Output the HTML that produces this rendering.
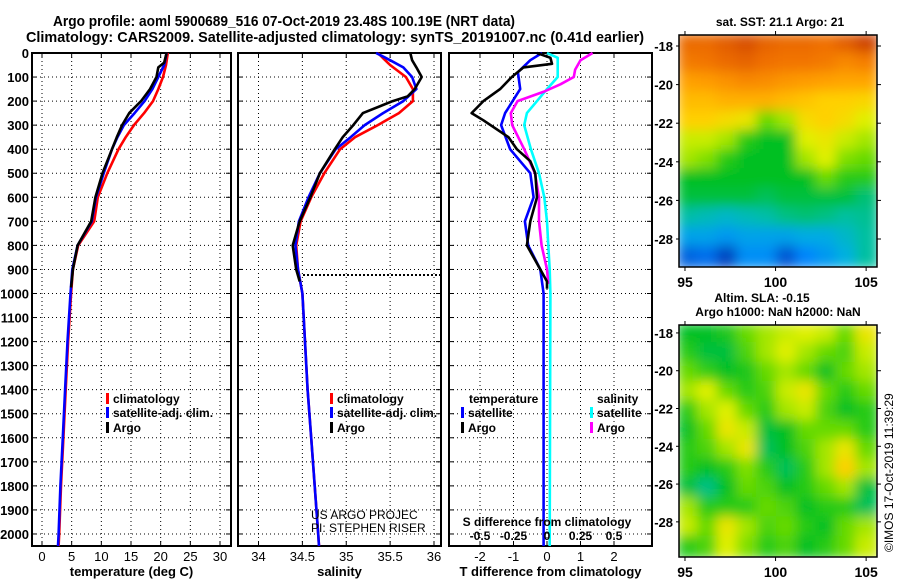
<!DOCTYPE html>
<html><head><meta charset="utf-8"><style>
html,body{margin:0;padding:0;background:#fff;}
svg{display:block;font-family:"Liberation Sans",sans-serif;}
</style></head><body>
<svg id="c" width="900" height="580" viewBox="0 0 900 580" xmlns="http://www.w3.org/2000/svg">
<defs>
<filter id="blur" x="0" y="0" width="1" height="1"><feGaussianBlur stdDeviation="6"/></filter>
<clipPath id="clipA"><rect x="679" y="35" width="198" height="232"/></clipPath>
<clipPath id="clipB"><rect x="679" y="325" width="198" height="232"/></clipPath>
</defs>
<text x="53" y="26" textLength="462" lengthAdjust="spacingAndGlyphs" font-size="15" font-weight="bold">Argo profile: aoml 5900689_516 07-Oct-2019 23.48S 100.19E (NRT data)</text>
<text x="26" y="42" textLength="618" lengthAdjust="spacingAndGlyphs" font-size="15" font-weight="bold">Climatology: CARS2009. Satellite-adjusted climatology: synTS_20191007.nc (0.41d earlier)</text>
<g id="g"></g>
</svg>
<script>
// ---- data ----
const depthTicks=[0,100,200,300,400,500,600,700,800,900,1000,1100,1200,1300,1400,1500,1600,1700,1800,1900,2000];
const tempTicks=[0,5,10,15,20,25,30];
const salTicks=[34,34.5,35,35.5,36];
const tdTicks=[-2,-1,0,1,2];
const sdTicks=[-0.5,-0.25,0,0.25,0.5];
const sdTickLabels=["-0.5","-0.25","0","0.25","0.5"];
const tClimD=[0,50,100,150,200,250,300,350,400,500,600,700,800,900,1000,1200,1400,1600,1800,2000,2050];
const tClimV=[21.2,20.9,20.4,19.6,18.7,17.2,15.5,14.1,12.9,11,9.4,8.8,6.1,5.2,4.9,4.4,4.0,3.6,3.2,2.9,2.8];
const tSatD=[0,50,100,150,200,250,300,350,400,500,600,700,800,900,1000,1200,1400,1600,1800,2000,2050];
const tSatV=[21.0,20.6,19.6,18.6,17.3,15.6,13.8,12.7,11.8,10.4,9.1,8.4,6.0,5.1,4.8,4.3,3.9,3.5,3.1,2.8,2.7];
const tArgoD=[0,40,60,100,150,200,250,300,350,400,500,600,700,800,900,975];
const tArgoV=[21.0,20.6,19.6,19.3,18.2,16.7,14.7,13.5,12.6,11.8,10.2,9.0,8.3,6.0,5.2,4.9];
const sClimD=[0,50,100,150,200,250,300,350,400,500,600,700,800,900,1000,1200,1400,1600,1800,2000,2050];
const sClimV=[35.36,35.5,35.68,35.76,35.76,35.6,35.36,35.1,34.93,34.75,34.6,34.48,34.43,34.45,34.5,34.53,34.56,34.6,34.64,34.68,34.69];
const sSatD=[0,30,60,100,150,200,250,300,350,400,500,600,700,800,900,1000,1200,1400,1600,1800,2000,2050];
const sSatV=[35.34,35.5,35.65,35.75,35.8,35.65,35.42,35.21,35.05,34.88,34.7,34.57,34.46,34.42,34.45,34.5,34.53,34.56,34.6,34.64,34.68,34.69];
const sArgoD=[0,30,60,100,150,180,200,250,300,350,400,500,600,700,800,900,950];
const sArgoV=[35.73,35.75,35.8,35.86,35.78,35.7,35.53,35.19,35.08,34.96,34.87,34.7,34.59,34.47,34.39,34.43,34.47];
const dtSatD=[0,30,80,150,250,300,400,500,600,700,800,900,1000,1500,2050];
const dtSatV=[-0.15,-0.5,-0.87,-0.8,-1.25,-1.37,-1.1,-0.5,-0.4,-0.66,-0.56,-0.2,-0.1,-0.1,-0.1];
const dtArgoD=[0,20,45,60,100,150,200,250,280,350,400,450,500,600,700,800,850,900,950,980];
const dtArgoV=[-0.3,0.1,0.15,-0.7,-1.05,-1.4,-1.9,-2.25,-1.9,-1.15,-0.9,-0.5,-0.35,-0.3,-0.5,-0.6,-0.4,-0.2,0.0,0.0];
const dsSatD=[0,20,50,100,150,200,250,300,400,500,600,700,800,900,1000,2050];
const dsSatV=[0,0.08,0.08,0.08,0,-0.075,-0.15,-0.17,-0.12,-0.06,-0.02,0,0.01,0.02,0.025,0.02];
const dsArgoD=[0,30,70,100,130,160,200,250,300,400,500,600,700,800,900,960];
const dsArgoV=[0.34,0.25,0.21,0.2,0.1,-0.02,-0.22,-0.27,-0.26,-0.17,-0.09,-0.06,-0.06,-0.04,0,0.01];
const latTicks=[-18,-20,-22,-24,-26,-28];
const lonTicks=[95,100,105];
const sstGrid=[
[.86,.86,.88,.9,.87,.86,.86,.85,.88,.92],
[.83,.84,.86,.87,.85,.84,.84,.83,.8,.82],
[.75,.76,.78,.8,.79,.77,.76,.75,.74,.74],
[.7,.7,.72,.72,.72,.7,.68,.66,.66,.65],
[.66,.66,.64,.62,.5,.55,.64,.66,.64,.6],
[.58,.58,.55,.45,.42,.42,.6,.62,.58,.55],
[.55,.52,.45,.42,.42,.42,.55,.6,.52,.5],
[.42,.42,.42,.42,.42,.42,.42,.5,.45,.45],
[.4,.4,.4,.4,.38,.4,.4,.4,.4,.36],
[.32,.3,.28,.3,.32,.35,.36,.35,.33,.34],
[.22,.22,.2,.22,.22,.22,.24,.24,.28,.33],
[.1,.12,.05,.18,.18,.08,.16,.2,.25,.33]];
const slaGrid=[
[.42,.42,.44,.5,.55,.58,.6,.58,.5,.62],
[.45,.40,.40,.48,.55,.6,.55,.5,.48,.58],
[.5,.46,.42,.44,.5,.55,.5,.42,.5,.55],
[.55,.6,.5,.45,.48,.58,.62,.5,.45,.5],
[.45,.55,.6,.5,.45,.55,.58,.48,.42,.45],
[.42,.5,.62,.58,.4,.42,.5,.5,.5,.45],
[.45,.48,.55,.62,.38,.42,.48,.55,.62,.5],
[.45,.42,.45,.52,.45,.38,.45,.55,.66,.55],
[.4,.35,.42,.5,.48,.42,.45,.5,.55,.4],
[.55,.45,.45,.45,.5,.48,.42,.45,.45,.38],
[.58,.5,.62,.55,.48,.5,.45,.42,.5,.55],
[.45,.48,.6,.52,.45,.48,.42,.45,.5,.58]];
// ---- helpers ----
const NS="http://www.w3.org/2000/svg";
const G=document.getElementById('g');
function mk(tag,attrs,parent){const e=document.createElementNS(NS,tag);for(const k in attrs)e.setAttribute(k,attrs[k]);(parent||G).appendChild(e);return e;}
function txt(s,attrs,parent){const e=mk('text',attrs,parent);e.textContent=s;return e;}
const Y0=53,Y1=546,DMAX=2050;
function yD(d){return Y0+d*(Y1-Y0)/DMAX;}
function lin(a,b,c,d){return v=>c+(v-a)*(d-c)/(b-a);}
const xT=lin(0,30,42,220), xS=lin(34,36,258.5,434), xDT=lin(0,1,547,580.5), xDS=lin(0,1,547,681);
const panels=[{x0:32,x1:231,f:xT,ticks:tempTicks,lab:tempTicks.map(String),title:"temperature (deg C)",name:"temperature"},
{x0:238,x1:441,f:xS,ticks:salTicks,lab:salTicks.map(String),title:"salinity",name:"salinity"},
{x0:449,x1:652,f:xDT,ticks:tdTicks,lab:tdTicks.map(String),title:"T difference from climatology",name:"difference"}];
panels.forEach((p,i)=>{
  const g=mk('g',{});
  
  
  depthTicks.forEach(d=>{const y=yD(d);mk('line',{x1:p.x0,x2:p.x1,y1:y,y2:y,stroke:'#000','stroke-width':1,'stroke-dasharray':'1,3'},g);
    mk('line',{x1:p.x0,x2:p.x0+5,y1:y,y2:y,stroke:'#000'},g);mk('line',{x1:p.x1-5,x2:p.x1,y1:y,y2:y,stroke:'#000'},g);});
  p.ticks.forEach((t,j)=>{const x=p.f(t);mk('line',{x1:x,x2:x,y1:Y0,y2:Y1,stroke:'#000','stroke-dasharray':'1,3'},g);
    mk('line',{x1:x,x2:x,y1:Y1-5,y2:Y1,stroke:'#000'},g);mk('line',{x1:x,x2:x,y1:Y0,y2:Y0+5,stroke:'#000'},g);
    const l=txt(p.lab[j],{x:x,y:561,'text-anchor':'middle','font-size':13},g);
    
    });
  mk('rect',{x:p.x0,y:Y0,width:p.x1-p.x0,height:Y1-Y0,fill:'none',stroke:'#000','stroke-width':2},g);
  const t=txt(p.title,{x:(p.x0+p.x1)/2,y:576,'text-anchor':'middle','font-size':13,'font-weight':'bold'},g);
  
  
});
depthTicks.forEach(d=>{const l=txt(String(d),{x:29,y:yD(d)+5,'text-anchor':'end','font-size':13,'font-weight':'bold'});
  
  });
function prof(D,V,fx,color,name){
  const pts=D.map((d,i)=>fx(V[i]).toFixed(1)+','+yD(d).toFixed(1)).join(' ');
  const e=mk('polyline',{points:pts,fill:'none',stroke:color,'stroke-width':2.6,'stroke-linejoin':'round'});
  
  
}
prof(tClimD,tClimV,xT,'#f00','temp-climatology-line');
prof(tSatD,tSatV,xT,'#00f','temp-satellite-line');
prof(tArgoD,tArgoV,xT,'#000','temp-argo-line');
prof(sClimD,sClimV,xS,'#f00','sal-climatology-line');
prof(sSatD,sSatV,xS,'#00f','sal-satellite-line');
prof(sArgoD,sArgoV,xS,'#000','sal-argo-line');
const dl=mk('line',{x1:303,x2:440,y1:yD(923),y2:yD(923),stroke:'#000','stroke-width':2,'stroke-dasharray':'2,2'});


prof(dsSatD,dsSatV,xDS,'#0ff','sdiff-satellite-line');
prof(dsArgoD,dsArgoV,xDS,'#f0f','sdiff-argo-line');
prof(dtSatD,dtSatV,xDT,'#00f','tdiff-satellite-line');
prof(dtArgoD,dtArgoV,xDT,'#000','tdiff-argo-line');
// legends
function leg(x,y,color,label){const g=mk('g',{});
  
  
  mk('rect',{x:x,y:y-10,width:3,height:11,fill:color},g);
  txt(label,{x:x+7,y:y,'font-size':12,'font-weight':'bold'},g);}
leg(106,403,'#f00','climatology');leg(106,417,'#00f','satellite-adj. clim.');leg(106,432,'#000','Argo');
leg(330,403,'#f00','climatology');leg(330,417,'#00f','satellite-adj. clim.');leg(330,432,'#000','Argo');
txt('temperature',{x:469,y:403,'font-size':12,'font-weight':'bold'});
txt('salinity',{x:597,y:403,'font-size':12,'font-weight':'bold'});
leg(461,417,'#00f','satellite');leg(461,432,'#000','Argo');
leg(590,417,'#0ff','satellite');leg(590,432,'#f0f','Argo');
txt('US ARGO PROJEC',{x:311,y:519,'font-size':12});
txt('PI: STEPHEN RISER',{x:311,y:532,'font-size':12});
txt('S difference from climatology',{x:547,y:526,'text-anchor':'middle','font-size':12,'font-weight':'bold'});
sdTicks.forEach((s,j)=>{const l=txt(sdTickLabels[j],{x:xDS(s),y:540,'text-anchor':'middle','font-size':12,'font-weight':'bold'});
  
  });
// maps
const cstops=[[0,[0,40,160]],[.15,[0,128,255]],[.25,[0,176,224]],[.33,[0,192,160]],[.42,[0,192,32]],[.52,[128,224,0]],[.6,[224,240,0]],[.66,[255,208,0]],[.75,[255,160,0]],[.85,[240,112,0]],[.95,[192,48,0]],[1,[160,20,0]]];
function cmap(v){for(let i=1;i<cstops.length;i++){if(v<=cstops[i][0]){const a=cstops[i-1],b=cstops[i];const t=(v-a[0])/(b[0]-a[0]);
  return 'rgb('+a[1].map((c,k)=>Math.round(c+(b[1][k]-c)*t)).join(',')+')';}}return 'rgb(160,20,0)';}
function map(grid,top,clip,name,latTop,latBot){
  const x0=679,x1=877,y1=top+232;
  const g=mk('g',{});
  
  
  const inner=mk('g',{'clip-path':'url(#'+clip+')'},g);
  const fg=mk('g',{filter:'url(#blur)'},inner);
  const rows=grid.length,cols=grid[0].length,cw=(x1-x0)/cols,ch=232/rows;
  mk('rect',{x:x0,y:top,width:198,height:232,fill:cmap(0.45)},fg);
  grid.forEach((r,i)=>r.forEach((v,j)=>{mk('rect',{x:x0+j*cw-2,y:top+i*ch-2,width:cw+4,height:ch+4,fill:cmap(v)},fg);}));
  mk('rect',{x:x0,y:top,width:198,height:232,fill:'none',stroke:'#000','stroke-width':1.5},g);
  const fy=lin(latTop,latBot,top,y1),fx=lin(94.67,105.6,x0,x1);
  latTicks.forEach(l=>{const y=fy(l);mk('line',{x1:x1,x2:x1+4,y1:y,y2:y,stroke:'#000'},g);mk('line',{x1:x0-3,x2:x0,y1:y,y2:y,stroke:'#000'},g);
    txt(String(l),{x:673,y:y+5,'text-anchor':'end','font-size':13,'font-weight':'bold'},g);});
  lonTicks.forEach(l=>{const x=fx(l);mk('line',{x1:x,x2:x,y1:top-4,y2:top,stroke:'#000'},g);mk('line',{x1:x,x2:x,y1:y1,y2:y1+4,stroke:'#000'},g);
    txt(String(l),{x:x,y:y1+20,'text-anchor':'middle','font-size':14,'font-weight':'bold'},g);});
}
map(sstGrid,35,'clipA','sst-map',-17.43,-29.45);
map(slaGrid,325,'clipB','sla-map',-17.58,-29.86);
txt('sat. SST: 21.1 Argo: 21',{x:780,y:26,'text-anchor':'middle','font-size':12,'font-weight':'bold'});
txt('Altim. SLA: -0.15',{x:762,y:302,'text-anchor':'middle','font-size':12,'font-weight':'bold'});
txt('Argo h1000: NaN h2000: NaN',{x:778,y:316,'text-anchor':'middle','font-size':12,'font-weight':'bold'});
txt('©IMOS 17-Oct-2019 11:39:29',{x:0,y:0,transform:'translate(893,552) rotate(-90)','font-size':12});
</script>
</body></html>
